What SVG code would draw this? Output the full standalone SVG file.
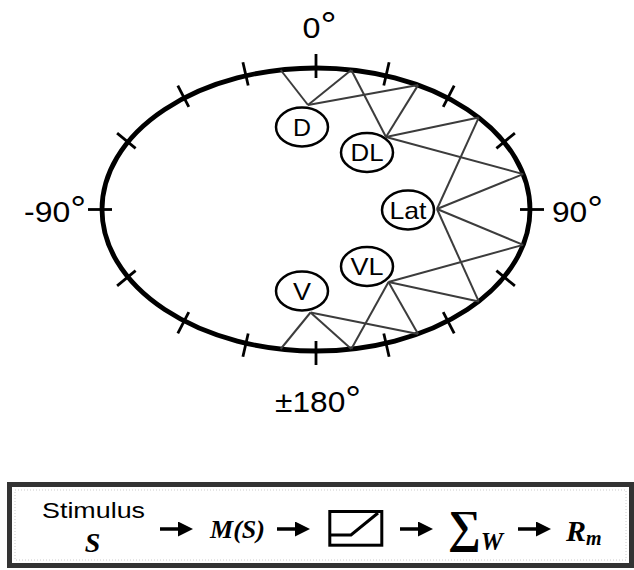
<svg xmlns="http://www.w3.org/2000/svg" width="634" height="570" viewBox="0 0 634 570">
<style>
.lbl{font-family:"Liberation Sans",Arial,sans-serif;fill:#000}
.deg{font-size:29px}
.node ellipse{fill:#fff;stroke:#000;stroke-width:2.5}
.node text{font-family:"Liberation Sans",Arial,sans-serif;font-size:24px;text-anchor:middle;fill:#000}
.conn line{stroke:#3c3c3c;stroke-width:2}
.tick line{stroke:#000;stroke-width:2.8}
.math{font-family:"Liberation Serif","Times New Roman",serif;font-weight:bold;font-style:italic;fill:#000}
.arrow line{stroke:#000;stroke-width:3.5}
</style>
<defs>
<marker id="ah" markerUnits="userSpaceOnUse" markerWidth="16" markerHeight="16" refX="2" refY="7.5" orient="auto"><path d="M0,0 L15,7.5 L0,15 z" fill="#000"/></marker>
</defs>
<rect width="634" height="570" fill="#fff"/>

<!-- azimuth ellipse -->
<ellipse cx="316" cy="209.5" rx="214" ry="141.5" fill="none" stroke="#000" stroke-width="4.8"/>
<g class="tick">
<line x1="316" y1="54" x2="316" y2="78"/>
<line x1="389.1" y1="62.2" x2="383.8" y2="85.5"/>
<line x1="454.2" y1="85.6" x2="443.2" y2="106.9"/>
<line x1="514.9" y1="133.1" x2="496.4" y2="148.3"/>
<line x1="544" y1="209.5" x2="520" y2="209.5"/>
<line x1="514.9" y1="285.9" x2="496.4" y2="270.7"/>
<line x1="454.2" y1="333.4" x2="443.2" y2="312.1"/>
<line x1="389.1" y1="356.8" x2="383.8" y2="333.5"/>
<line x1="316" y1="365" x2="316" y2="341"/>
<line x1="242.9" y1="356.8" x2="248.2" y2="333.5"/>
<line x1="177.8" y1="333.4" x2="188.8" y2="312.1"/>
<line x1="117.1" y1="285.9" x2="135.6" y2="270.7"/>
<line x1="88" y1="209.5" x2="112" y2="209.5"/>
<line x1="117.1" y1="133.1" x2="135.6" y2="148.3"/>
<line x1="177.8" y1="85.6" x2="188.8" y2="106.9"/>
<line x1="242.9" y1="62.2" x2="248.2" y2="85.5"/>
</g>

<text class="lbl deg" x="302.5" y="37.5" textLength="34" lengthAdjust="spacingAndGlyphs">0<tspan font-size="36">°</tspan></text>
<text class="lbl deg" x="24" y="221.5" textLength="62" lengthAdjust="spacingAndGlyphs">-90<tspan font-size="36">°</tspan></text>
<text class="lbl deg" x="552" y="221.5" textLength="51" lengthAdjust="spacingAndGlyphs">90<tspan font-size="36">°</tspan></text>
<text class="lbl deg" x="275" y="411.5" textLength="86" lengthAdjust="spacingAndGlyphs">±180<tspan font-size="36">°</tspan></text>

<!-- connectors -->
<g id="connectors" class="conn">
<line x1="308" y1="105" x2="280.7" y2="70"/>
<line x1="308" y1="105" x2="351.3" y2="70"/>
<line x1="308" y1="105" x2="418.1" y2="85.1"/>
<line x1="386" y1="137" x2="351.3" y2="70"/>
<line x1="386" y1="137" x2="418.1" y2="85.1"/>
<line x1="386" y1="137" x2="478.7" y2="117.6"/>
<line x1="386" y1="137" x2="523.2" y2="174.1"/>
<line x1="437" y1="209" x2="478.7" y2="117.6"/>
<line x1="437" y1="209" x2="523.2" y2="174.1"/>
<line x1="437" y1="209" x2="523.2" y2="244.9"/>
<line x1="437" y1="209" x2="478.7" y2="301.4"/>
<line x1="388.5" y1="282" x2="523.2" y2="244.9"/>
<line x1="388.5" y1="282" x2="478.7" y2="301.4"/>
<line x1="388.5" y1="282" x2="418.1" y2="333.9"/>
<line x1="388.5" y1="282" x2="351.3" y2="349"/>
<line x1="310.5" y1="312.5" x2="418.1" y2="333.9"/>
<line x1="310.5" y1="312.5" x2="351.3" y2="349"/>
<line x1="310.5" y1="312.5" x2="280.7" y2="349"/>
</g>

<g id="node-D" class="node"><ellipse cx="302" cy="127" rx="26" ry="19.5"/><text x="302" y="135.6" textLength="18" lengthAdjust="spacingAndGlyphs">D</text></g>
<g id="node-DL" class="node"><ellipse cx="367" cy="152.5" rx="26" ry="19.5"/><text x="367" y="161.1" textLength="33" lengthAdjust="spacingAndGlyphs">DL</text></g>
<g id="node-Lat" class="node"><ellipse cx="408" cy="210" rx="26" ry="19.5"/><text x="408" y="218.6" textLength="37" lengthAdjust="spacingAndGlyphs">Lat</text></g>
<g id="node-VL" class="node"><ellipse cx="367" cy="266.5" rx="26" ry="19.5"/><text x="367" y="275.1" textLength="33" lengthAdjust="spacingAndGlyphs">VL</text></g>
<g id="node-V" class="node"><ellipse cx="302" cy="291" rx="26" ry="19.5"/><text x="302" y="299.6" textLength="18" lengthAdjust="spacingAndGlyphs">V</text></g>

<!-- model box -->
<g id="model">
<rect x="9.5" y="484.5" width="622" height="81" fill="#fff" stroke="#333" stroke-width="5"/>
<rect x="15" y="490" width="611" height="70" fill="none" stroke="#ccc" stroke-width="1" stroke-dasharray="1 2"/>
<text class="lbl" x="42" y="518" font-size="22" textLength="103" lengthAdjust="spacingAndGlyphs">Stimulus</text>
<text class="math" x="92.5" y="551.5" font-size="28" text-anchor="middle">S</text>
<text class="math" x="210" y="538" font-size="26" textLength="55" lengthAdjust="spacingAndGlyphs">M(S)</text>
<rect x="329.8" y="511.5" width="52" height="33.7" fill="none" stroke="#000" stroke-width="3"/>
<polyline points="331,535 351,535 378,513" fill="none" stroke="#000" stroke-width="3"/>
<text class="math" x="448" y="542" font-size="46" font-style="normal">∑<tspan font-size="25" font-style="italic" dy="8">W</tspan></text>
<text class="math" x="566" y="541" font-size="30">R<tspan font-size="20" dy="4">m</tspan></text>
</g>
<g id="arrows" class="arrow">
<line x1="160" y1="529" x2="180" y2="529" marker-end="url(#ah)"/>
<line x1="277" y1="529" x2="297" y2="529" marker-end="url(#ah)"/>
<line x1="400" y1="529" x2="420" y2="529" marker-end="url(#ah)"/>
<line x1="518" y1="529" x2="538" y2="529" marker-end="url(#ah)"/>
</g>
</svg>
